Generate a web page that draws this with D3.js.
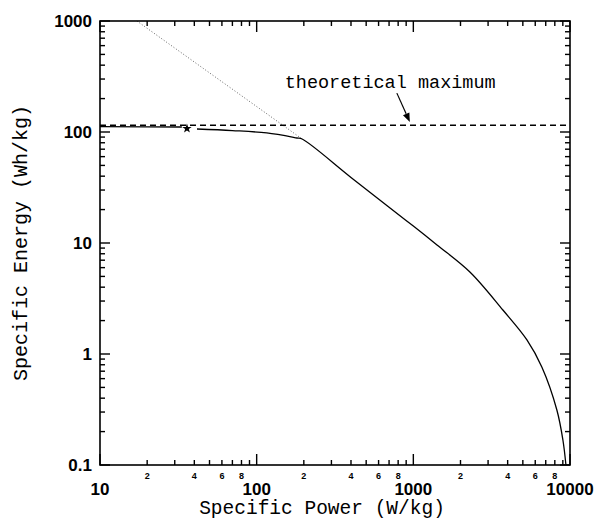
<!DOCTYPE html>
<html>
<head>
    <script src="https://d3js.org/d3.v7.min.js"></script>
    <style>
        body { margin: 0; background: #fff; }
        .mono { font-family: "Liberation Mono", "DejaVu Sans Mono", monospace; }
    </style>
</head>
<body>
<script>
    // Measured curve, low-power part (up to the marked point)
    var powerLow = [10, 20, 33.3];
    var energyLow = [111.7, 111.3, 110.9];

    // Marked point (star)
    var starPoint = [35.9, 107.6];

    // Measured curve, after the marked point
    var powerHigh = [41.6, 70, 116, 181, 195, 400, 700, 1000, 1416, 2296, 3730, 5310, 6620, 8245, 9010, 9420];
    var energyHigh = [106.4, 103, 98, 88.3, 86.5, 39, 21, 14.2, 9.6, 5.48, 2.49, 1.34, 0.76, 0.313, 0.168, 0.1];

    // Dotted extrapolation line
    var powerDotted = [17.2, 195];
    var energyDotted = [1000, 86.5];

    // Theoretical maximum
    var theoreticalMax = 115;

    var xMajor = [10, 100, 1000, 10000];
    var yMajor = [0.1, 1, 10, 100, 1000];
    var yLabels = ["0.1", "1", "10", "100", "1000"];

    var width = 598, height = 520;
    var margin = { left: 100, right: 28, top: 21, bottom: 55 };

    var svg = d3.select("body").append("svg")
        .attr("width", width)
        .attr("height", height);

    var x = d3.scaleLog().domain([10, 10000]).range([margin.left, width - margin.right]);
    var y = d3.scaleLog().domain([0.1, 1000]).range([height - margin.bottom, margin.top]);

    // minor ticks: 2..9 in each decade
    var xMinor = [], yMinor = [];
    [10, 100, 1000].forEach(function (d) {
        for (var k = 2; k <= 9; k++) xMinor.push(d * k);
    });
    [0.1, 1, 10, 100].forEach(function (d) {
        for (var k = 2; k <= 9; k++) yMinor.push(+(d * k).toPrecision(3));
    });

    var x0 = margin.left, x1 = width - margin.right;
    var y0 = height - margin.bottom, y1 = margin.top;

    // major x labels
    svg.append("g").selectAll("text")
        .data(xMajor).enter().append("text")
        .attr("x", function (d) { return x(d); })
        .attr("y", y0 + 30)
        .attr("text-anchor", "middle")
        .style("font-family", "'Liberation Sans', Arial, sans-serif")
        .style("font-size", "17px")
        .style("font-weight", "bold")
        .text(function (d) { return d; });

    // minor x labels 2,4,6,8
    function mantissa(d) {
        return Math.round(d / Math.pow(10, Math.floor(Math.log10(d) + 1e-9)));
    }
    svg.append("g").selectAll("text")
        .data(xMinor.filter(function (d) { return mantissa(d) % 2 === 0; }))
        .enter().append("text")
        .attr("x", function (d) { return x(d); })
        .attr("y", y0 + 14)
        .attr("text-anchor", "middle")
        .style("font-family", "'Liberation Sans', Arial, sans-serif")
        .style("font-size", "9px")
        .style("font-weight", "bold")
        .text(mantissa);

    // y labels
    svg.append("g").selectAll("text")
        .data(yMajor).enter().append("text")
        .attr("x", x0 - 8)
        .attr("y", function (d) { return y(d); })
        .attr("dy", "0.36em")
        .attr("text-anchor", "end")
        .style("font-family", "'Liberation Sans', Arial, sans-serif")
        .style("font-size", "17px")
        .style("font-weight", "bold")
        .text(function (d, i) { return yLabels[i]; });

    // axis titles
    svg.append("text")
        .attr("class", "mono")
        .attr("x", 322).attr("y", 514)
        .attr("text-anchor", "middle")
        .style("font-size", "19.5px")
        .text("Specific Power (W/kg)");

    svg.append("text")
        .attr("class", "mono")
        .attr("transform", "translate(27," + ((y0 + y1) / 2) + ") rotate(-90)")
        .attr("text-anchor", "middle")
        .style("font-size", "20px")
        .text("Specific Energy (Wh/kg)");

    var lineGen = d3.line()
        .x(function (d) { return x(d[0]); })
        .y(function (d) { return y(d[1]); });
    var curveGen = d3.line()
        .x(function (d) { return x(d[0]); })
        .y(function (d) { return y(d[1]); })
        .curve(d3.curveCatmullRom.alpha(0.5));

    // dotted line
    svg.append("path")
        .attr("d", lineGen(d3.zip(powerDotted, energyDotted)))
        .attr("fill", "none")
        .attr("stroke", "#555")
        .attr("stroke-width", 0.9)
        .attr("stroke-dasharray", "1,2");

    // solid measured curve
    svg.append("path")
        .attr("d", lineGen(d3.zip(powerLow, energyLow)))
        .attr("fill", "none").attr("stroke", "#000").attr("stroke-width", 1.3);
    svg.append("path")
        .attr("d", curveGen(d3.zip(powerHigh, energyHigh)))
        .attr("fill", "none").attr("stroke", "#000").attr("stroke-width", 1.3);

    // theoretical maximum
    svg.append("line")
        .attr("x1", x0).attr("x2", x1)
        .attr("y1", y(theoreticalMax)).attr("y2", y(theoreticalMax))
        .attr("stroke", "#000").attr("stroke-width", 1.3)
        .attr("stroke-dasharray", "6,4");

    // star marker
    svg.append("path")
        .attr("d", d3.symbol().type(d3.symbolStar).size(28)())
        .attr("transform", "translate(" + x(starPoint[0]) + "," + y(starPoint[1]) + ")")
        .attr("fill", "#000");

    // annotation with arrow
    svg.append("text")
        .attr("class", "mono")
        .attr("x", x(151)).attr("y", y(249))
        .style("font-size", "18.5px")
        .text("theoretical maximum");

    var ax0 = x(785), ay0 = y(224), ax1 = x(950), ay1 = y(123);
    var ang = Math.atan2(ay1 - ay0, ax1 - ax0);
    var headLen = 9, headW = 3.5;
    var bx = ax1 - headLen * Math.cos(ang), by = ay1 - headLen * Math.sin(ang);
    svg.append("line")
        .attr("x1", ax0).attr("y1", ay0)
        .attr("x2", bx).attr("y2", by)
        .attr("stroke", "#000").attr("stroke-width", 1.2);
    svg.append("path")
        .attr("d", "M" + ax1 + "," + ay1 +
            "L" + (bx + headW * Math.sin(ang)) + "," + (by - headW * Math.cos(ang)) +
            "L" + (bx - headW * Math.sin(ang)) + "," + (by + headW * Math.cos(ang)) + "Z")
        .attr("fill", "#000");

    // inward ticks on all four sides, as thin filled rects
    var tw = 1.4;
    var tickG = svg.append("g").attr("fill", "#000");
    function xTicks(values, len) {
        tickG.append("g").selectAll("rect").data(values).enter().append("rect")
            .attr("x", function (d) { return x(d) - tw / 2; })
            .attr("y", y0 - len).attr("width", tw).attr("height", len);
        tickG.append("g").selectAll("rect").data(values).enter().append("rect")
            .attr("x", function (d) { return x(d) - tw / 2; })
            .attr("y", y1).attr("width", tw).attr("height", len);
    }
    function yTicks(values, len) {
        tickG.append("g").selectAll("rect").data(values).enter().append("rect")
            .attr("y", function (d) { return y(d) - tw / 2; })
            .attr("x", x0).attr("height", tw).attr("width", len);
        tickG.append("g").selectAll("rect").data(values).enter().append("rect")
            .attr("y", function (d) { return y(d) - tw / 2; })
            .attr("x", x1 - len).attr("height", tw).attr("width", len);
    }
    xTicks(xMinor, 5);
    xTicks(xMajor, 11);
    yTicks(yMinor, 5);
    yTicks(yMajor, 10);

    // frame
    svg.append("rect")
        .attr("x", x0).attr("y", y1)
        .attr("width", x1 - x0).attr("height", y0 - y1)
        .attr("fill", "none").attr("stroke", "#000").attr("stroke-width", 1.6);
</script>
</body>
</html>
